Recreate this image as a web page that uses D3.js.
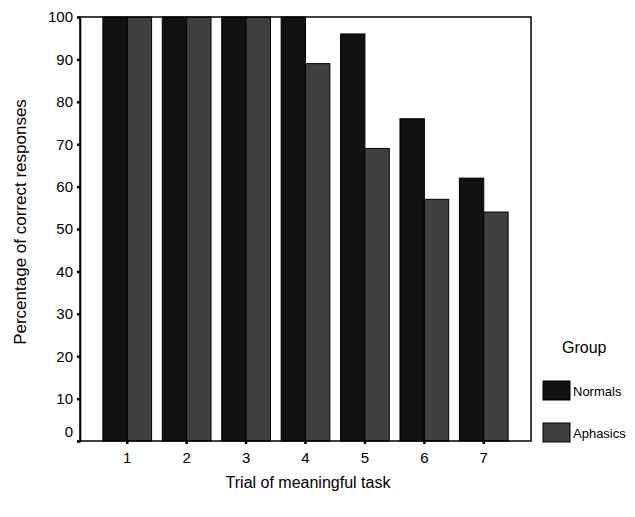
<!DOCTYPE html>
<html><head><meta charset="utf-8">
<script src="https://cdn.jsdelivr.net/npm/d3@7"></script>
<style>body{margin:0;background:#fff}svg{display:block}text{font-family:"Liberation Sans",Arial,sans-serif;fill:#000}</style>
</head><body>
<svg id="c" width="635" height="517"></svg>
<script>
const trials = ["1","2","3","4","5","6","7"];
const groups = ["Normals","Aphasics"];
const normals = [100,100,100,100,96,76,62];
const aphasics = [100,100,100,89,69,57,54];
const yTicks = [0,10,20,30,40,50,60,70,80,90,100];
const colors = ["#111111","#404040"];

const svg = d3.select("#c");
const L=80,R=531,T=17,B=441;
const x = d3.scaleBand().domain(trials).range([L,R]).paddingInner(0.18).paddingOuter(0.385);
const xs = d3.scaleBand().domain(groups).range([0,x.bandwidth()]);
const y = d3.scaleLinear().domain([0,100]).range([B,T]);
const series=[normals,aphasics];

const data=[];
trials.forEach((t,i)=>groups.forEach((g,j)=>data.push({t,g,v:series[j][i],c:colors[j]})));
svg.append("g").selectAll("rect").data(data).join("rect")
 .attr("x",d=>x(d.t)+xs(d.g)).attr("width",xs.bandwidth())
 .attr("y",d=>y(d.v)).attr("height",d=>y(0)-y(d.v))
 .attr("fill",d=>d.c).attr("stroke","#000").attr("stroke-width",1);

// frame
svg.append("rect").attr("x",L).attr("y",T).attr("width",R-L).attr("height",B-T)
 .attr("fill","none").attr("stroke","#000").attr("stroke-width",1.5);

const ya=svg.append("g").attr("transform",`translate(${L},0)`)
 .call(d3.axisLeft(y).tickValues(yTicks).tickSize(3).tickPadding(4));
ya.select(".domain").attr("stroke","#000").attr("stroke-width",1.5);
ya.selectAll(".tick line").attr("stroke-width",2.5);
ya.selectAll(".tick text").style("font-size","15px").attr("fill","#000")
 .attr("dy",d=>d===0?"-0.3em":"0.32em");

const xa=svg.append("g").attr("transform",`translate(0,${B})`)
 .call(d3.axisBottom(x).tickSize(3).tickPadding(8));
xa.select(".domain").remove();
xa.selectAll(".tick line").attr("stroke-width",2.5);
xa.selectAll(".tick text").style("font-size","15px").attr("fill","#000");

svg.append("text").attr("transform","translate(26,222) rotate(-90)").attr("text-anchor","middle")
 .style("font-size","17px").text("Percentage of correct responses");
svg.append("text").attr("x",308).attr("y",488).attr("text-anchor","middle")
 .style("font-size","16px").text("Trial of meaningful task");

svg.append("text").attr("x",562).attr("y",353).style("font-size","16px").text("Group");
const lg=svg.append("g").selectAll("g").data(groups).join("g")
 .attr("transform",(d,i)=>`translate(543,${381+i*42})`);
lg.append("rect").attr("width",27).attr("height",19).attr("fill",(d,i)=>colors[i]).attr("stroke","#000");
lg.append("text").attr("x",30).attr("y",15).style("font-size","13px").text(d=>d);
</script>
</body></html>
